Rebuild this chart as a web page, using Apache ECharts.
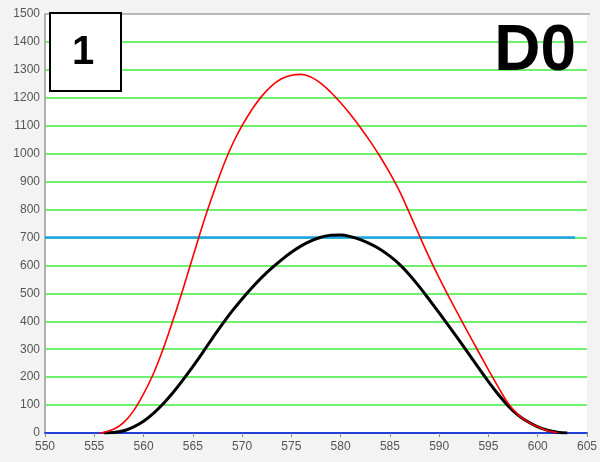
<!DOCTYPE html>
<html>
<head>
<meta charset="utf-8">
<script src="https://cdn.jsdelivr.net/npm/echarts@6/dist/echarts.min.js"></script>
<style>
html,body{margin:0;padding:0;background:#f3f3f3;}
#chart{width:600px;height:462px;}
</style>
</head>
<body>
<div id="chart"></div>
<script>
// wavelength (x) values and intensities
const redX = [555.5,556,557,558,559,560,561,562,563,564,565,566,567,568,569,570,571,572,573,574,575,576,577,578,579,580,581,582,583,584,585,586,587,588,589,590,591,592,593,594,595,596,597,598,599,600,601,602];
const redY = [0,3,14,38,80,140,212,302,405,515,630,745,850,948,1032,1100,1158,1206,1243,1268,1281,1284,1274,1252,1220,1182,1140,1094,1044,990,930,864,786,706,628,555,486,420,355,290,226,164,106,66,40,22,8,1];
const blackX = [556,557,558,559,560,561,562,563,564,565,566,567,568,569,570,571,572,573,574,575,576,577,578,579,580,581,582,583,584,585,586,587,588,589,590,591,592,593,594,595,596,597,598,599,600,601,602,603];
const blackY = [0,2,8,22,42,70,105,145,190,238,288,340,390,437,480,520,557,590,620,647,670,688,701,708,709,703,692,677,658,633,603,566,523,477,430,382,333,283,233,184,138,97,64,40,22,10,3,0];
const thresholdX = [550,603.8];
const thresholdY = [700,700];
const xTicks = {min:550,max:605,interval:5};
const yTicks = {min:0,max:1500,interval:100};
const panelLabel = '1';
const sampleLabel = 'D0';

const zip = (xs, ys) => xs.map((x,i)=>[x, ys[i]]);
const chart = echarts.init(document.getElementById('chart'), null, {renderer:'canvas'});
const labelFont = {fontFamily:'Liberation Sans', fontSize:12, color:'#555', formatter:v=>String(v)};
const G = {left:45,right:10,top:14,bottom:29};
chart.setOption({
  backgroundColor:'#f3f3f3',
  animation:false,
  grid:{left:G.left,right:G.right,top:G.top,bottom:G.bottom,show:true,backgroundColor:'#ffffff',borderWidth:0},
  xAxis:{
    type:'value', min:xTicks.min, max:xTicks.max, interval:xTicks.interval,
    axisLine:{show:true,onZero:false,lineStyle:{color:'#1f3fd6',width:2}},
    axisTick:{show:true,length:4,lineStyle:{color:'#888',width:1}},
    axisLabel:Object.assign({margin:8},labelFont),
    splitLine:{show:false}
  },
  yAxis:{
    type:'value', min:yTicks.min, max:yTicks.max, interval:yTicks.interval,
    axisLine:{show:true,lineStyle:{color:'#b0b0b0',width:2}},
    axisTick:{show:false},
    axisLabel:Object.assign({margin:5},labelFont),
    splitLine:{show:true,lineStyle:{color:'#6ff06f',width:2}}
  },
  series:[
    {type:'line',data:zip(thresholdX,thresholdY),showSymbol:false,lineStyle:{color:'#1aa3e6',width:2.5},z:3},
    {type:'line',data:zip(blackX,blackY),showSymbol:false,smooth:0.4,lineStyle:{color:'#000000',width:3},z:4},
    {type:'line',data:zip(redX,redY),showSymbol:false,smooth:0.4,lineStyle:{color:'#ff0000',width:1.6},z:5}
  ],
  graphic:[
    {type:'line',shape:{x1:G.left,y1:G.top,x2:600-G.right,y2:G.top},style:{stroke:'#b8b8b8',lineWidth:2},z:9},
    {type:'rect',left:49,top:12,shape:{width:71,height:78},style:{fill:'#ffffff',stroke:'#000000',lineWidth:2},z:10},
    {type:'text',left:72,top:33,style:{text:panelLabel,font:'bold 40px "Liberation Sans"',fill:'#000'},z:11},
    {type:'text',right:24,top:20,style:{text:sampleLabel,font:'bold 64px "Liberation Sans"',fill:'#000'},z:11}
  ]
});
</script>
</body>
</html>
